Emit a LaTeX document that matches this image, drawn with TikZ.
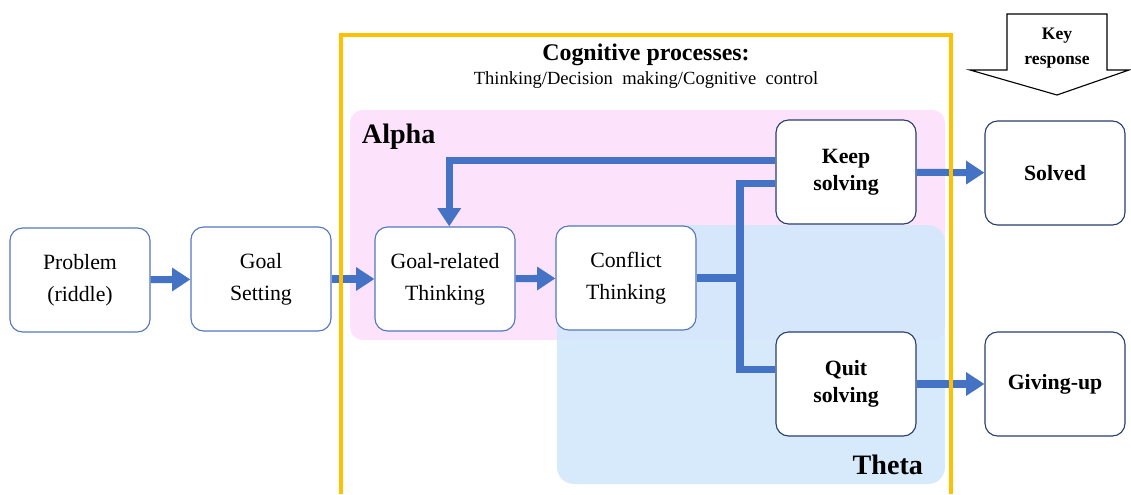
\documentclass[tikz,border=0pt]{standalone}
\usepackage{fontspec}
\setmainfont{Liberation Serif}
\usetikzlibrary{arrows.meta}
\definecolor{flowblue}{RGB}{68,114,196}
\definecolor{alphapink}{RGB}{252,227,251}
\definecolor{thetablue}{RGB}{211,232,251}
\definecolor{frameyellow}{RGB}{255,192,0}
\definecolor{lightedge}{RGB}{84,118,190}
\definecolor{darkedge}{RGB}{40,62,110}

\begin{document}
\begin{tikzpicture}[x=0.025cm,y=-0.025cm,
        box/.style={draw=lightedge,line width=0.8pt,fill=white,rounded corners=9pt,
            minimum width=3.5cm,minimum height=2.6cm,align=center,
            font=\fontsize{15.5}{22.5}\selectfont},
        keybox/.style={box,draw=darkedge,font=\fontsize{15.5}{19}\selectfont\bfseries},
        pipe/.style={draw=flowblue,line width=5pt},
        flow/.style={pipe,-{Triangle[width=16pt,length=13pt]}}]
    \useasboundingbox (0,0) rectangle (1131,494);

    % band regions
    \fill[alphapink,rounded corners=9pt] (350,110) rectangle (945,340);
    \fill[thetablue,fill opacity=0.9,rounded corners=12pt] (557,225) rectangle (945,484);
    \node[anchor=west,font=\fontsize{20}{24}\selectfont\bfseries] (alpha) at (357,137) {Alpha};
    \node[anchor=east,font=\fontsize{20}{24}\selectfont\bfseries] (theta) at (928,465) {Theta};

    % title of the frame
    \node[font=\fontsize{17}{20}\selectfont\bfseries] (title) at (646,55) {Cognitive processes:};
    \node[font=\fontsize{13.2}{16}\selectfont] (subtitle) at (646,80) {Thinking/Decision\ \ making/Cognitive\ \ control};

    % boxes
    \node[box] (prob) at (80,280) {Problem\\(riddle)};
    \node[box] (goal) at (261,279) {Goal\\Setting};
    \node[box] (gthink) at (445,279) {Goal-related\\Thinking};
    \node[box] (conf) at (626,278) {Conflict\\Thinking};
    \node[keybox] (keep) at (846,172) {Keep\\solving};
    \node[keybox] (quit) at (846,384) {Quit\\solving};
    \node[keybox] (solved) at (1055,173) {Solved};
    \node[keybox] (giveup) at (1055,384) {Giving-up};

    % arrows
    \draw[flow] (prob) -- (goal);
    \draw[flow] (goal) -- (gthink);
    \draw[flow] (gthink) -- (conf);
    \coordinate (split) at (740,278);
    \coordinate (kin) at ([yshift=-8pt]keep.west);
    \coordinate (qin) at ([yshift=10pt]quit.west);
    \draw[pipe] (conf.east) -- (split);
    \draw[pipe] (kin) -| (split) |- (qin);
    \coordinate (kout) at ([yshift=8.5pt]keep.west);
    \draw[flow] (kout) -| ([xshift=3pt]gthink.north);
    \draw[flow] (keep) -- (solved);
    \draw[flow] (quit) -- (giveup);

    % frame
    \draw[frameyellow,line width=2.4pt] (341,494) -- (341,35) -- (951,35) -- (951,494);

    % key response arrow
    \draw[line width=0.8pt,fill=white] (1007,14) -- (1107,14) -- (1107,70) -- (1129,70)
        -- (1057,95) -- (970,70) -- (1007,70) -- cycle;
    \node[font=\fontsize{12.5}{18}\selectfont\bfseries,align=center] (keyresp) at (1057,48) {Key\\response};
\end{tikzpicture}
\end{document}
